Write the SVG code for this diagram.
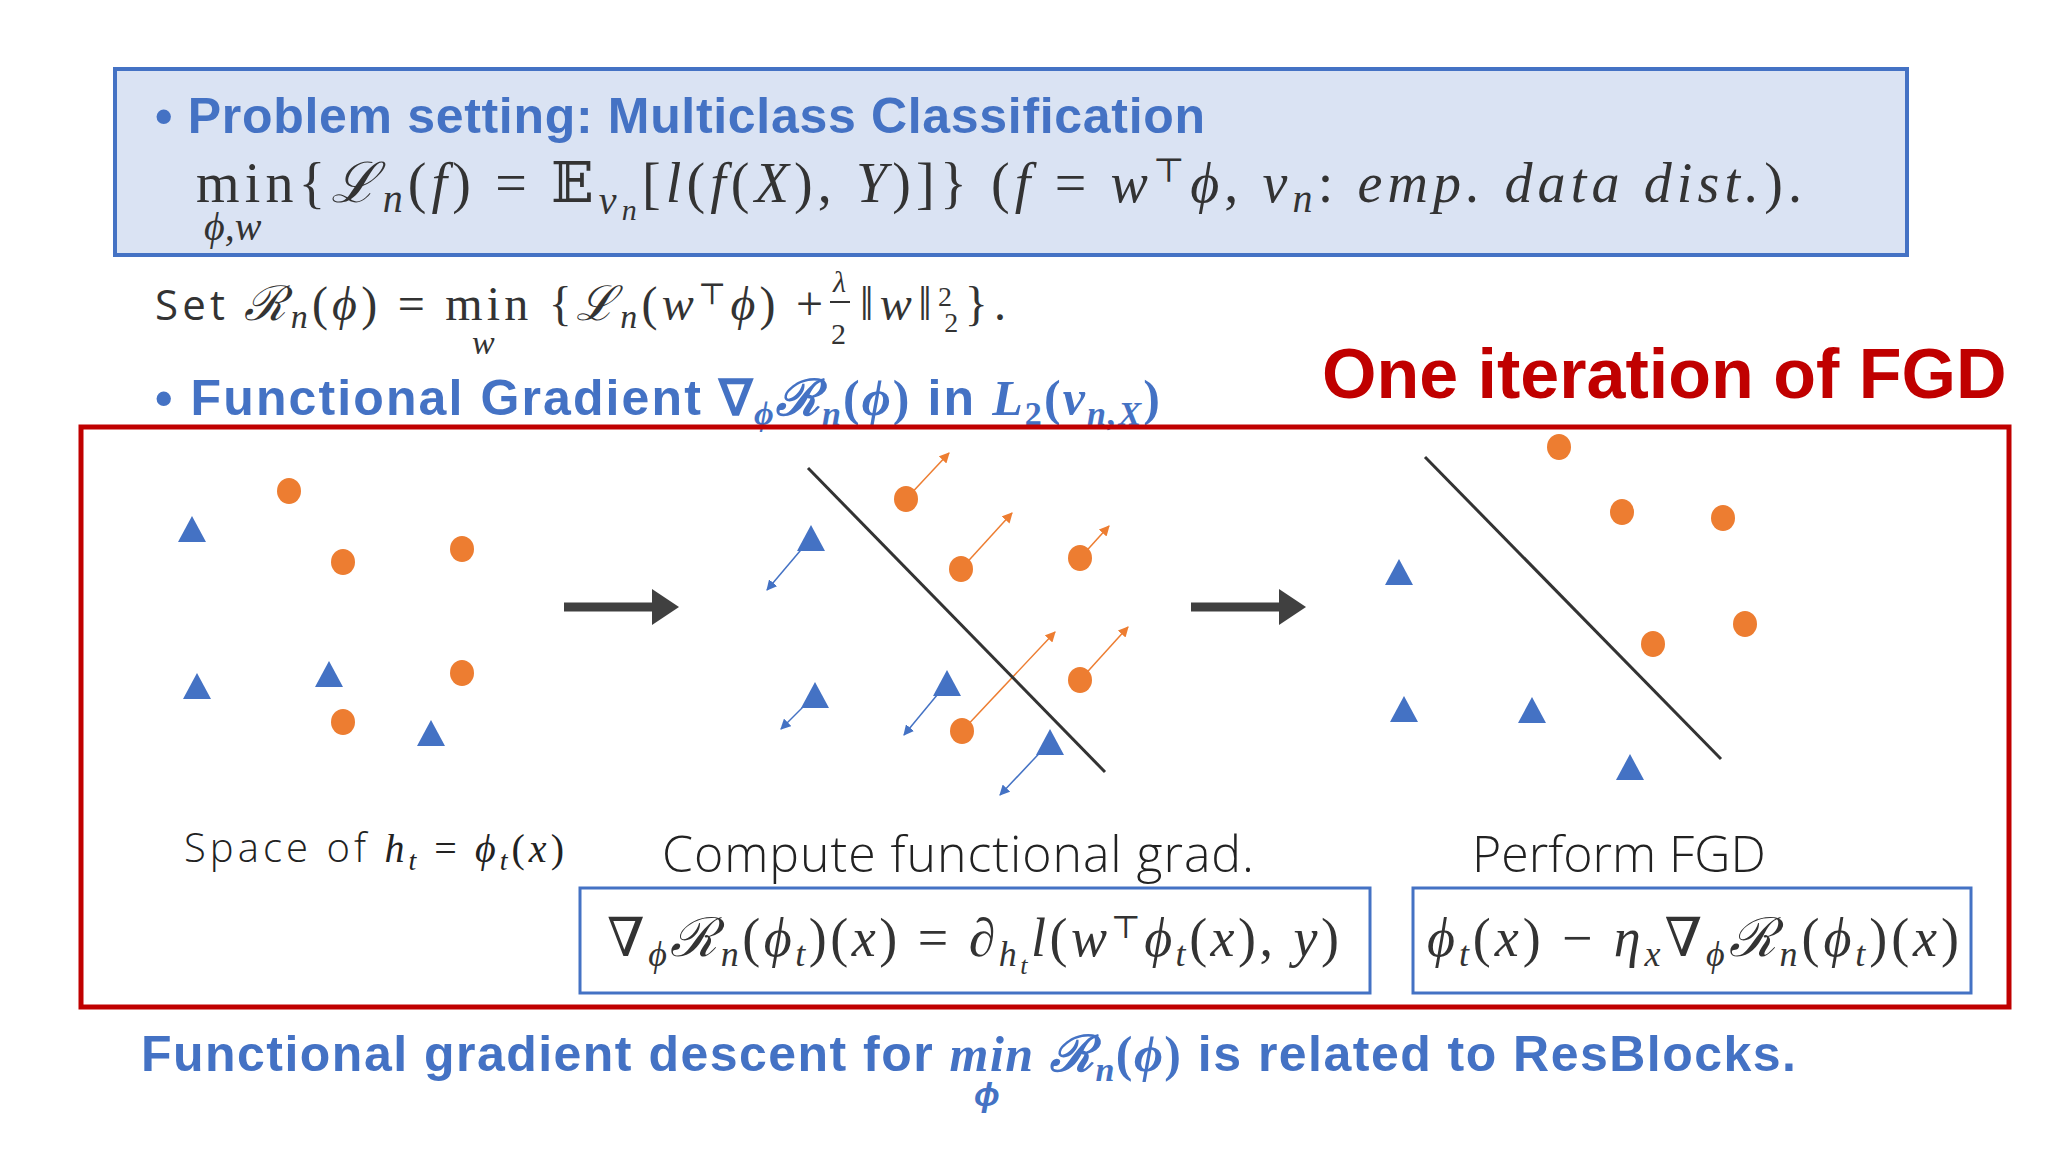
<svg xmlns="http://www.w3.org/2000/svg" width="2048" height="1152" viewBox="0 0 2048 1152">
<style>
.h{font-family:"Liberation Sans",Arial,sans-serif;font-weight:bold;fill:#4472c4}
.m{font-family:"Liberation Serif","DejaVu Serif",serif;fill:#333}
.i{font-style:italic}
.lb{font-family:"Open Sans","Noto Sans",sans-serif;font-weight:300;fill:#222}
.o{fill:#ed7d31}
.t{fill:#4472c4}
.oa{stroke:#ed7d31;stroke-width:1.5;fill:none}
.ba{stroke:#4472c4;stroke-width:1.5;fill:none}
.sep{stroke:#333;stroke-width:3}
.fb{fill:#fff;stroke:#4472c4;stroke-width:3}
</style>
<defs>
<marker id="ao" viewBox="0 0 10 10" refX="9" refY="5" markerWidth="7" markerHeight="7" orient="auto"><path d="M0,0L10,5L0,10z" fill="#ed7d31"/></marker>
<marker id="ab" viewBox="0 0 10 10" refX="9" refY="5" markerWidth="7" markerHeight="7" orient="auto"><path d="M0,0L10,5L0,10z" fill="#4472c4"/></marker>
</defs>
<rect width="2048" height="1152" fill="#fff"/>
<g id="setting">
<rect x="115" y="69" width="1792" height="186" fill="#dae3f3" stroke="#4472c4" stroke-width="4"/>
<text x="155" y="133" class="h" font-size="50" textLength="1050" lengthAdjust="spacing">• Problem setting: Multiclass Classification</text>
<text x="196" y="202" class="m" font-size="56" textLength="1606" lengthAdjust="spacing">min{<tspan class="i">ℒ</tspan><tspan class="i" font-size="40" dy="10">n</tspan><tspan dy="-10">(</tspan><tspan class="i">f</tspan>) = 𝔼<tspan class="i" font-size="40" dy="12">ν</tspan><tspan class="i" font-size="30" dy="6">n</tspan><tspan dy="-18">[</tspan><tspan class="i">l</tspan>(<tspan class="i">f</tspan>(<tspan class="i">X</tspan>), <tspan class="i">Y</tspan>)]}  (<tspan class="i">f</tspan> = <tspan class="i">w</tspan><tspan font-size="34" dy="-20">⊤</tspan><tspan class="i" dy="20">ϕ</tspan>, <tspan class="i">ν</tspan><tspan class="i" font-size="40" dy="10">n</tspan><tspan dy="-10">: </tspan><tspan class="i">emp. data dist.</tspan>).</text>
<text x="204" y="240" class="m i" font-size="40">ϕ,w</text>
</g>
<g id="set">
<text x="155" y="320" class="m" font-size="48" textLength="668" lengthAdjust="spacing"><tspan font-family="Open Sans,sans-serif" font-size="42">Set </tspan><tspan class="i">ℛ</tspan><tspan class="i" font-size="34" dy="8">n</tspan><tspan dy="-8">(</tspan><tspan class="i">ϕ</tspan>) = min {<tspan class="i">ℒ</tspan><tspan class="i" font-size="34" dy="8">n</tspan><tspan dy="-8">(</tspan><tspan class="i">w</tspan><tspan font-size="30" dy="-16">⊤</tspan><tspan class="i" dy="16">ϕ</tspan>) + </text>
<text x="833" y="292" class="m i" font-size="30">λ</text>
<line x1="830" y1="302" x2="850" y2="302" stroke="#333" stroke-width="2"/>
<text x="831" y="344" class="m" font-size="30">2</text>
<text x="860" y="320" class="m" font-size="48" textLength="146" lengthAdjust="spacing">‖<tspan class="i">w</tspan>‖<tspan font-size="28" dy="-14">2</tspan><tspan font-size="28" dx="-14" dy="26">2</tspan><tspan dy="-12">}.</tspan></text>
<text x="472" y="354" class="m i" font-size="34">w</text>
</g>
<text x="155" y="415" class="h" font-size="50" textLength="1005" lengthAdjust="spacing">• Functional Gradient <tspan font-family="Liberation Serif,serif">∇</tspan><tspan font-family="Liberation Serif,serif" class="i" font-size="34" dy="10">ϕ</tspan><tspan font-family="Liberation Serif,serif" class="i" dy="-10">ℛ</tspan><tspan font-family="Liberation Serif,serif" class="i" font-size="34" dy="10">n</tspan><tspan font-family="Liberation Serif,serif" dy="-10">(</tspan><tspan font-family="Liberation Serif,serif" class="i">ϕ</tspan><tspan font-family="Liberation Serif,serif">)</tspan> in <tspan font-family="Liberation Serif,serif" class="i">L</tspan><tspan font-family="Liberation Serif,serif" font-size="34" dy="10">2</tspan><tspan font-family="Liberation Serif,serif" dy="-10">(</tspan><tspan font-family="Liberation Serif,serif" class="i">ν</tspan><tspan font-family="Liberation Serif,serif" class="i" font-size="34" dy="10">n,X</tspan><tspan font-family="Liberation Serif,serif" dy="-10">)</tspan></text>
<text x="1322" y="398" font-family="Liberation Sans,Arial,sans-serif" font-size="70" font-weight="bold" fill="#c00000">One iteration of FGD</text>
<rect x="81" y="427" width="1928" height="580" fill="none" stroke="#c00000" stroke-width="5"/>
<g id="connectors">
<line x1="564" y1="607" x2="655" y2="607" stroke="#404040" stroke-width="9"/>
<path d="M652,589L679,607L652,625z" fill="#404040"/>
<line x1="1191" y1="607" x2="1282" y2="607" stroke="#404040" stroke-width="9"/>
<path d="M1279,589L1306,607L1279,625z" fill="#404040"/>
<line x1="906" y1="499" x2="949" y2="453" class="oa" marker-end="url(#ao)"/>
<line x1="961" y1="569" x2="1012" y2="513" class="oa" marker-end="url(#ao)"/>
<line x1="1080" y1="558" x2="1109" y2="526" class="oa" marker-end="url(#ao)"/>
<line x1="1080" y1="680" x2="1128" y2="627" class="oa" marker-end="url(#ao)"/>
<line x1="962" y1="731" x2="1055" y2="632" class="oa" marker-end="url(#ao)"/>
<line x1="811" y1="538" x2="767" y2="590" class="ba" marker-end="url(#ab)"/>
<line x1="815" y1="695" x2="781" y2="729" class="ba" marker-end="url(#ab)"/>
<line x1="947" y1="683" x2="904" y2="735" class="ba" marker-end="url(#ab)"/>
<line x1="1050" y1="742" x2="1000" y2="795" class="ba" marker-end="url(#ab)"/>
</g>
<g id="panel1">
<ellipse cx="289" cy="491" rx="12" ry="13" class="o"/><ellipse cx="343" cy="562" rx="12" ry="13" class="o"/><ellipse cx="462" cy="549" rx="12" ry="13" class="o"/><ellipse cx="462" cy="673" rx="12" ry="13" class="o"/><ellipse cx="343" cy="722" rx="12" ry="13" class="o"/>
<path d="M192,516l14,26h-28z" class="t"/><path d="M197,673l14,26h-28z" class="t"/><path d="M329,661l14,26h-28z" class="t"/><path d="M431,720l14,26h-28z" class="t"/>
<text x="184" y="862" class="lb" font-size="40" textLength="380" lengthAdjust="spacing">Space of <tspan font-family="Liberation Serif,serif" font-style="italic">h</tspan><tspan font-family="Liberation Serif,serif" font-style="italic" font-size="28" dy="8">t</tspan><tspan font-family="Liberation Serif,serif" dy="-8"> = </tspan><tspan font-family="Liberation Serif,serif" font-style="italic">ϕ</tspan><tspan font-family="Liberation Serif,serif" font-style="italic" font-size="28" dy="8">t</tspan><tspan font-family="Liberation Serif,serif" dy="-8">(</tspan><tspan font-family="Liberation Serif,serif" font-style="italic">x</tspan><tspan font-family="Liberation Serif,serif">)</tspan></text>
</g>
<g id="panel2">
<line x1="808" y1="468" x2="1105" y2="772" class="sep"/>
<ellipse cx="906" cy="499" rx="12" ry="13" class="o"/><ellipse cx="961" cy="569" rx="12" ry="13" class="o"/><ellipse cx="1080" cy="558" rx="12" ry="13" class="o"/><ellipse cx="1080" cy="680" rx="12" ry="13" class="o"/><ellipse cx="962" cy="731" rx="12" ry="13" class="o"/>
<path d="M811,525l14,26h-28z" class="t"/><path d="M815,682l14,26h-28z" class="t"/><path d="M947,670l14,26h-28z" class="t"/><path d="M1050,729l14,26h-28z" class="t"/>
<text x="662" y="872" class="lb" font-size="50" textLength="592" lengthAdjust="spacing">Compute functional grad.</text>
<rect x="580" y="888" width="790" height="105" class="fb"/>
<text x="607" y="956" class="m" font-size="54" textLength="732" lengthAdjust="spacing">∇<tspan class="i" font-size="36" dy="10">ϕ</tspan><tspan class="i" dy="-10">ℛ</tspan><tspan class="i" font-size="36" dy="10">n</tspan><tspan dy="-10">(</tspan><tspan class="i">ϕ</tspan><tspan class="i" font-size="36" dy="10">t</tspan><tspan dy="-10">)(</tspan><tspan class="i">x</tspan>) = ∂<tspan class="i" font-size="36" dy="10">h</tspan><tspan class="i" font-size="26" dy="8">t</tspan><tspan class="i" dy="-18">l</tspan>(<tspan class="i">w</tspan><tspan font-size="32" dy="-18">⊤</tspan><tspan class="i" dy="18">ϕ</tspan><tspan class="i" font-size="36" dy="10">t</tspan><tspan dy="-10">(</tspan><tspan class="i">x</tspan>), <tspan class="i">y</tspan>)</text>
</g>
<g id="panel3">
<line x1="1425" y1="457" x2="1721" y2="759" class="sep"/>
<ellipse cx="1559" cy="447" rx="12" ry="13" class="o"/><ellipse cx="1622" cy="512" rx="12" ry="13" class="o"/><ellipse cx="1723" cy="518" rx="12" ry="13" class="o"/><ellipse cx="1745" cy="624" rx="12" ry="13" class="o"/><ellipse cx="1653" cy="644" rx="12" ry="13" class="o"/>
<path d="M1399,559l14,26h-28z" class="t"/><path d="M1404,696l14,26h-28z" class="t"/><path d="M1532,697l14,26h-28z" class="t"/><path d="M1630,754l14,26h-28z" class="t"/>
<text x="1472" y="872" class="lb" font-size="50">Perform FGD</text>
<rect x="1413" y="888" width="558" height="105" class="fb"/>
<text x="1427" y="956" class="m" font-size="54" textLength="532" lengthAdjust="spacing"><tspan class="i">ϕ</tspan><tspan class="i" font-size="36" dy="10">t</tspan><tspan dy="-10">(</tspan><tspan class="i">x</tspan>) − <tspan class="i">η</tspan><tspan class="i" font-size="36" dy="10">x</tspan><tspan dy="-10">∇</tspan><tspan class="i" font-size="36" dy="10">ϕ</tspan><tspan class="i" dy="-10">ℛ</tspan><tspan class="i" font-size="36" dy="10">n</tspan><tspan dy="-10">(</tspan><tspan class="i">ϕ</tspan><tspan class="i" font-size="36" dy="10">t</tspan><tspan dy="-10">)(</tspan><tspan class="i">x</tspan>)</text>
</g>
<g id="footer">
<text x="141" y="1071" class="h" font-size="50" textLength="1655" lengthAdjust="spacing">Functional gradient descent for <tspan font-family="Liberation Serif,serif" font-style="italic">min</tspan> <tspan font-family="Liberation Serif,serif" font-style="italic">ℛ</tspan><tspan font-family="Liberation Serif,serif" font-style="italic" font-size="34" dy="10">n</tspan><tspan font-family="Liberation Serif,serif" dy="-10">(</tspan><tspan font-family="Liberation Serif,serif" font-style="italic">ϕ</tspan><tspan font-family="Liberation Serif,serif">)</tspan> is related to ResBlocks.</text>
<text x="974" y="1106" class="h" font-size="34" font-family="Liberation Serif,serif" font-style="italic">ϕ</text>
</g>
</svg>
